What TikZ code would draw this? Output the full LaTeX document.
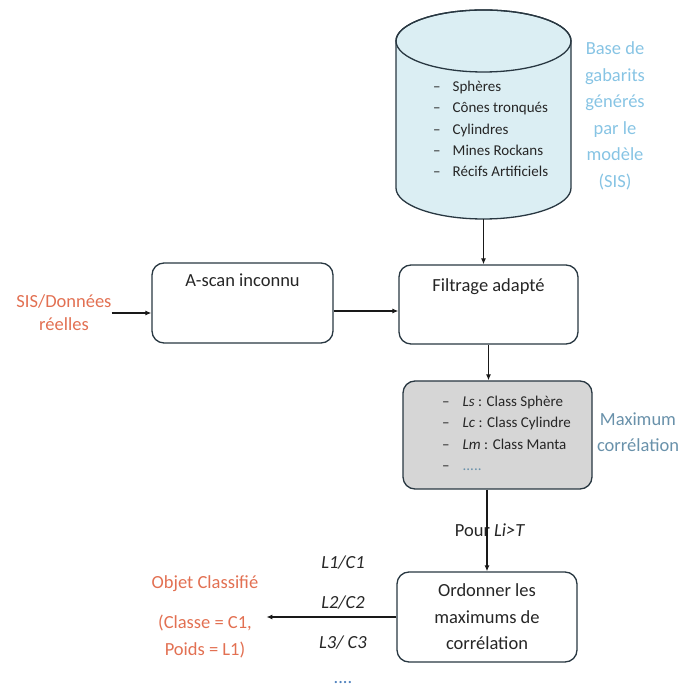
\documentclass[tikz,border=0pt]{standalone}
\usepackage{fontspec}
\setmainfont{Carlito}
\usetikzlibrary{arrows.meta}
\definecolor{dbblue}{RGB}{219,238,243}
\definecolor{lblue}{RGB}{135,196,228}
\definecolor{slate}{RGB}{105,145,170}
\definecolor{orng}{RGB}{226,112,82}
\definecolor{boxgray}{RGB}{214,214,214}
\definecolor{edge}{RGB}{40,55,65}
\definecolor{dots}{RGB}{80,130,190}

\begin{document}
\begin{tikzpicture}[x=1pt, y=1pt, text=black!85,
    box/.style={draw=edge, rounded corners=12pt, line width=1.3pt},
    big/.style={font=\fontsize{18.5}{26.5}\selectfont, align=center, inner sep=0pt},
    small/.style={font=\fontsize{15}{21.3}\selectfont, align=left, inner sep=0pt},
    arr/.style={-{Latex[length=6pt,width=5pt]}, line width=1.1pt, draw=black!90}]
  \useasboundingbox (0,0) rectangle (679,693);
  % base de gabarits
  \filldraw[fill=dbblue, draw=edge, line width=1.3pt] (396,652) -- (396,505)
    arc[start angle=180, end angle=360, x radius=87.5, y radius=31] -- (571,652)
    arc[start angle=0, end angle=180, x radius=87.5, y radius=31] -- cycle;
  \draw[edge, line width=1.3pt] (483.5,652) ellipse[x radius=87.5, y radius=31];
  \coordinate (dbbot) at (483.5,474);
  \node[small, anchor=west] (dblist) at (433,564) {–\hspace{12pt}Sphères\\–\hspace{12pt}Cônes tronqués\\–\hspace{12pt}Cylindres\\–\hspace{12pt}Mines Rockans\\–\hspace{12pt}Récifs Artificiels};
  \node[big, text=lblue] (dblbl) at (615,577) {Base de\\gabarits\\générés\\par le\\modèle\\(SIS)};
  % chaine de traitement
  \node[big, text=orng, font=\fontsize{18.5}{23}\selectfont] (sis) at (64,380) {SIS/Données\\réelles};
  \node[box, minimum width=181pt, minimum height=80pt,
    label={[big, name=ascantxt, anchor=north, yshift=-11pt]north:A-scan inconnu}] (ascan) at (242.5,390) {};
  \node[box, minimum width=179pt, minimum height=79pt,
    label={[big, name=filttxt, anchor=north, yshift=-14pt]north:Filtrage adapté}] (filt) at (488.5,388.5) {};
  \node[box, fill=boxgray, minimum width=189pt, minimum height=108pt] (corr) at (497.5,258) {};
  \node[small, anchor=west] (corrlist) at (442,259.5) {–\hspace{13pt}\textit{Ls} : Class Sphère\\–\hspace{13pt}\textit{Lc} : Class Cylindre\\–\hspace{13pt}\textit{Lm} : Class Manta\\–\hspace{13pt}\textcolor{slate}{.....}};
  \node[big, text=slate] (corrlbl) at (638,261) {Maximum\\corrélation};
  \node[big] (pour) at (490,163) {Pour \textit{Li>T}};
  \node[box, big, minimum width=180pt, minimum height=90pt] (ord) at (487,76) {Ordonner les\\maximums de\\corrélation};
  \node[big, text=orng] (obj) at (205,76.5) {Objet Classifié\\[14pt](Classe = C1,\\Poids = L1)};
  \node[big] (l1) at (343,130) {\textit{L1/C1}};
  \node[big] (l2) at (343,90) {\textit{L2/C2}};
  \node[big] (l3) at (343,50) {\textit{L3/ C3}};
  \node[big, text=dots] (more) at (343,10) {....};
  \coordinate (objin) at ([xshift=8pt]obj.east |- ord.west);
  % fleches
  \draw[arr] (dbbot) -- (dbbot |- filt.north);
  \draw[arr] (sis.east) -- (sis.east -| ascan.west);
  \draw[arr] ([yshift=-8pt]ascan.east) -- ([yshift=-8pt]ascan.east -| filt.west);
  \draw[arr] (filt.south) -- (filt.south |- corr.north);
  \draw[arr] (ord.north |- corr.south) -- (ord.north);
  \draw[arr] (ord.west) -- (objin);
\end{tikzpicture}
\end{document}
